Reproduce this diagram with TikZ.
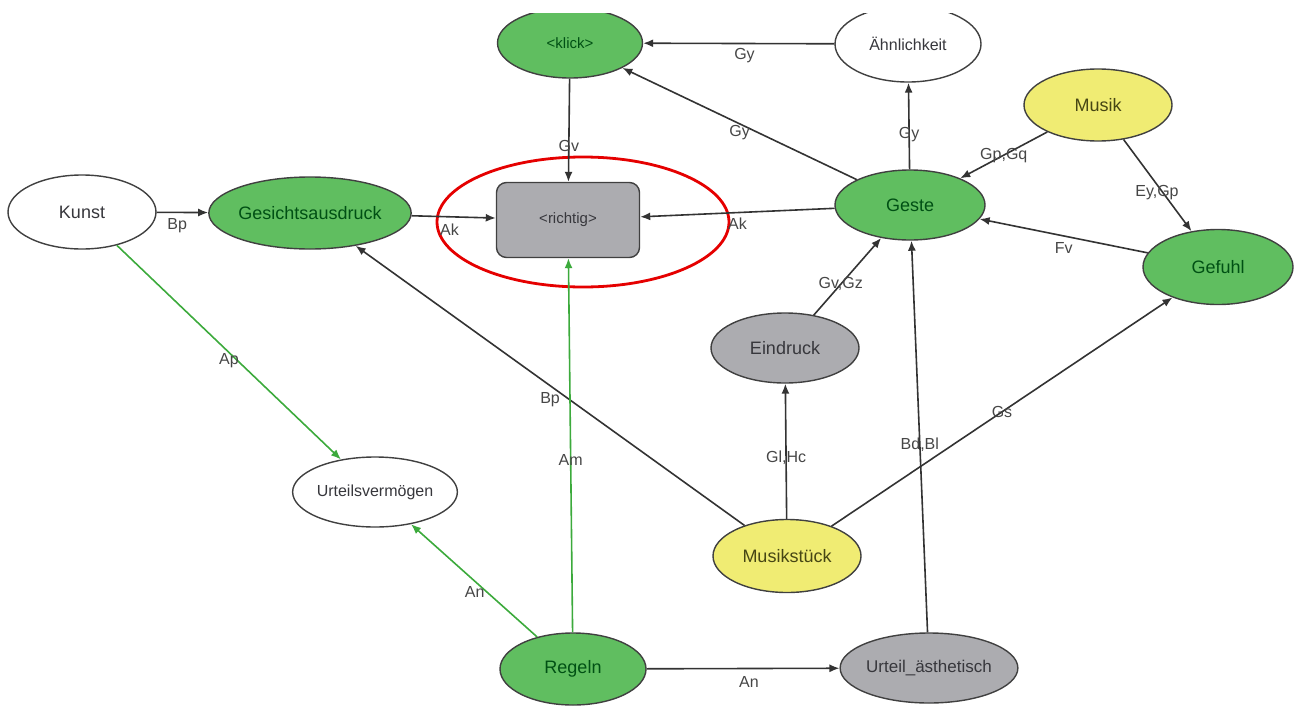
\documentclass[tikz,border=0pt]{standalone}
\usepackage{fontspec}
\setmainfont{Liberation Sans}
\usetikzlibrary{shapes.geometric,arrows.meta}
\definecolor{ngreen}{RGB}{96,190,96}
\definecolor{nyellow}{RGB}{240,236,115}
\definecolor{ngray}{RGB}{172,172,176}
\definecolor{tgreen}{RGB}{0,80,20}
\definecolor{tgray}{RGB}{55,55,60}
\definecolor{tolive}{RGB}{70,70,20}
\definecolor{lgray}{RGB}{70,70,70}
\definecolor{egreen}{RGB}{60,170,60}
\tikzset{
 ell/.style={ellipse, draw=black!75, line width=1.4pt, inner sep=0pt, font=\fontsize{18}{21}\selectfont, text=tgray},
 gnode/.style={ell, fill=ngreen, text=tgreen},
 ynode/.style={ell, fill=nyellow, text=tolive},
 grnode/.style={ell, fill=ngray},
 wnode/.style={ell, fill=white},
 edge/.style={draw=black!80, line width=1.6pt, -{Latex[length=10pt,width=8pt]}},
 gedge/.style={draw=egreen, line width=1.6pt, -{Latex[length=10pt,width=8pt]}},
 lbl/.style={font=\fontsize{16}{19}\selectfont, text=lgray, inner sep=1pt},
}
\begin{document}
\begin{tikzpicture}[x=1pt,y=-1pt]
\useasboundingbox (0,0) rectangle (1300,707);
% highlight
\node[ellipse, draw=red!90!black, line width=2.8pt, minimum width=292, minimum height=130] (hl) at (583,222) {};
% nodes
\node[gnode, minimum width=145, minimum height=70, font=\fontsize{15}{18}\selectfont] (klick) at (570,43) {<klick>};
\node[wnode, minimum width=146, minimum height=76, font=\fontsize{16}{19}\selectfont] (ahn) at (908,44) {Ähnlichkeit};
\node[ynode, minimum width=148, minimum height=72] (musik) at (1098,105) {Musik};
\node[wnode, minimum width=148, minimum height=74] (kunst) at (82,212) {Kunst};
\node[gnode, minimum width=176, minimum height=72] (gesicht) at (310,213) {Gesichtsausdruck};
\node[rectangle, rounded corners=10pt, draw=black!75, line width=1.4pt, fill=ngray, minimum width=143, minimum height=75, text=tgray, font=\fontsize{15}{18}\selectfont] (richtig) at (568,220) {<richtig>};
\node[gnode, minimum width=150, minimum height=70] (geste) at (910,205) {Geste};
\node[gnode, minimum width=150, minimum height=75] (gefuhl) at (1218,267) {Gefuhl};
\node[grnode, minimum width=148, minimum height=70] (eindruck) at (785,348) {Eindruck};
\node[wnode, minimum width=134, minimum height=70, font=\fontsize{16}{19}\selectfont] (urteilsv) at (375,492) {Urteilsvermögen};
\node[ynode, minimum width=148, minimum height=73] (musikstuck) at (787,556) {Musikstück};
\node[gnode, minimum width=146, minimum height=72] (regeln) at (573,669) {Regeln};
\node[grnode, minimum width=150, minimum height=70, font=\fontsize{17}{20}\selectfont] (urteil) at (929,668) {Urteil\_ästhetisch};
% crop strip at the top
\fill[white] (0,0) rectangle (1300,13);
% edges
\draw[edge] (ahn) -- node[lbl,pos=.47,yshift=-12pt]{Gy} (klick);
\draw[edge] (geste) -- node[lbl,pos=.5,yshift=-9pt]{Gy} (klick);
\draw[edge] (geste) -- node[lbl,pos=.4]{Gy} (ahn);
\draw[edge] (klick) -- node[lbl,pos=.65]{Gv} (richtig);
\draw[edge] (kunst) -- node[lbl,pos=.4,yshift=-13pt]{Bp} (gesicht);
\draw[edge] (gesicht) -- node[lbl,pos=.45,yshift=-13pt]{Ak} (richtig);
\draw[edge] (geste) -- node[lbl,pos=.5,yshift=-11pt]{Ak} (richtig);
\draw[edge] (musik) -- node[lbl,pos=.5]{Gp,Gq} (geste);
\draw[edge] (musik) -- node[lbl,pos=.58,xshift=-6pt]{Ey,Gp} (gefuhl);
\draw[edge] (gefuhl) -- node[lbl,pos=.5,yshift=-12pt]{Fv} (geste);
\draw[edge] (eindruck) -- node[lbl,pos=.4]{Gv,Gz} (geste);
\draw[edge] (musikstuck) -- node[lbl,pos=.45]{Gl,Hc} (eindruck);
\draw[edge] (musikstuck) -- node[lbl,pos=.5,yshift=-14pt]{Bp} (gesicht);
\draw[edge] (musikstuck) -- node[lbl,pos=.5]{Gs} (gefuhl);
\draw[edge] (urteil) -- node[lbl,pos=.48]{Bd,Bl} (geste);
\draw[edge] (regeln) -- node[lbl,pos=.53,yshift=-13pt]{An} (urteil);
\draw[gedge] (regeln) -- node[lbl,pos=.4,xshift=-12pt]{An} (urteilsv);
\draw[gedge] (regeln) -- node[lbl,pos=.46]{Am} (richtig);
\draw[gedge] (kunst) -- node[lbl,pos=.5,yshift=-8pt]{Ap} (urteilsv);
\end{tikzpicture}
\end{document}
